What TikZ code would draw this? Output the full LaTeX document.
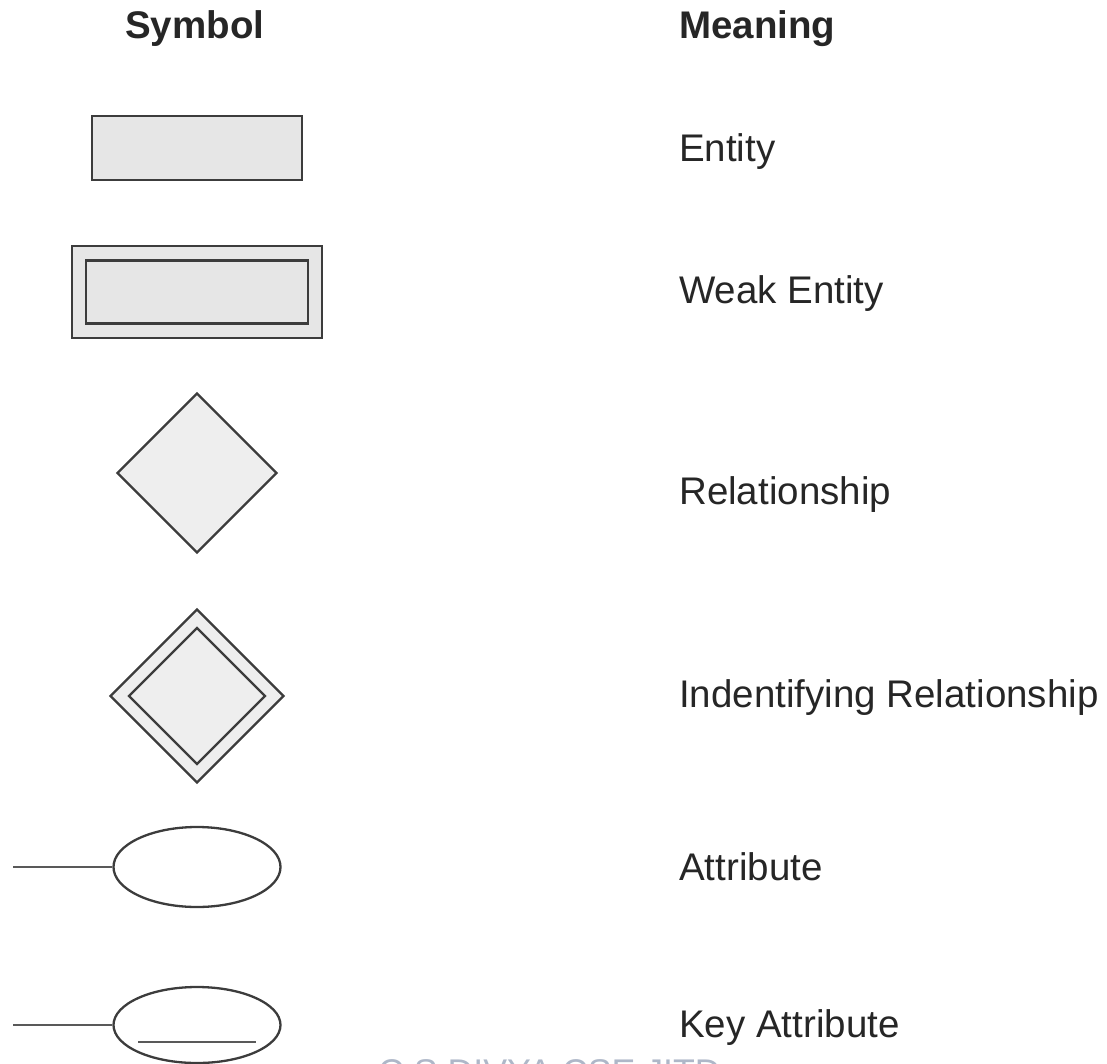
\documentclass[tikz,border=0pt]{standalone}
\usepackage{fontspec}
\setmainfont{Liberation Sans}
\usetikzlibrary{shapes.geometric}
\definecolor{edgegray}{HTML}{3C3C3C}
\definecolor{boxfill}{HTML}{E6E6E6}
\definecolor{relfill}{HTML}{EEEEEE}
\definecolor{inkgray}{HTML}{262626}
\definecolor{markblue}{HTML}{AEB7C8}
\begin{document}
\begin{tikzpicture}[x=1pt,y=-1pt,
  shapeline/.style={draw=edgegray, line width=2.3pt},
  entitybox/.style={shapeline, fill=boxfill, rectangle, inner sep=0pt},
  relbox/.style={shapeline, fill=relfill, diamond, inner sep=0pt, aspect=1},
  attrbox/.style={shapeline, fill=white, ellipse, inner sep=0pt},
  connector/.style={draw=edgegray!85, line width=2.6pt},
  meaning/.style={anchor=base west, inner sep=0pt, text=inkgray,
    font=\fontsize{38.5}{46}\selectfont},
  header/.style={meaning, font=\bfseries\fontsize{38.5}{46}\selectfont},
  watermark/.style={anchor=base west, inner sep=0pt, text=markblue,
    font=\fontsize{35.7}{42}\selectfont}]

\useasboundingbox (0,0) rectangle (1107,1064);
\clip (0,0) rectangle (1107,1064);

% column headings
\node[header] (hsym) at (125,39) {Symbol};
\node[header] (hmean) at (679,39) {Meaning};

% entity
\node[entitybox, minimum width=210pt, minimum height=64pt] (ent) at (197,148) {};
\node[meaning] (tent) at (679,162) {Entity};

% weak entity
\node[entitybox, minimum width=250pt, minimum height=92pt] (weako) at (197,292) {};
\node[entitybox, minimum width=222pt, minimum height=63pt] (weaki) at (197,292) {};
\node[meaning] (tweak) at (679,304) {Weak Entity};

% relationship
\node[relbox, minimum width=160pt, minimum height=160pt] (rel) at (197,473) {};
\node[meaning] (trel) at (679,504) {Relationship};

% identifying relationship
\node[relbox, minimum width=174pt, minimum height=174pt] (idro) at (197,696) {};
\node[relbox, minimum width=137pt, minimum height=137pt] (idri) at (197,696) {};
\node[meaning] (tidr) at (679,707) {Indentifying Relationship};

% attribute
\node[attrbox, minimum width=167pt, minimum height=80pt] (attr) at (197,867) {};
\coordinate (attrend) at (13,867);
\draw[connector] (attrend) -- (attr.west);
\node[meaning] (tattr) at (679,880) {Attribute};

% key attribute
\node[attrbox, minimum width=167pt, minimum height=76pt] (key) at (197,1025) {};
\coordinate (keyend) at (13,1025);
\draw[connector] (keyend) -- (key.west);
\draw[connector] ([shift={(-59pt,-17pt)}]key.center) -- ([shift={(59pt,-17pt)}]key.center);
\node[meaning] (tkey) at (679,1037) {Key Attribute};

% author mark along the bottom edge
\node[watermark] (credit) at (378,1084) {C.S.DIVYA CSE JITD};
\end{tikzpicture}
\end{document}
